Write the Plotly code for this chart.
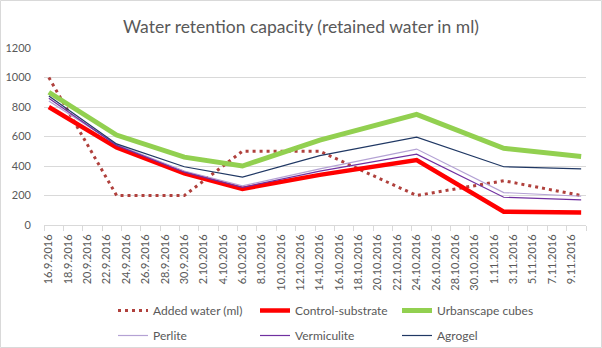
import pandas as pd
import plotly.graph_objects as go

# Measurement dates and retained water (ml) per substrate
dates = ["2016-09-16", "2016-09-23", "2016-09-30", "2016-10-06",
         "2016-10-14", "2016-10-24", "2016-11-02", "2016-11-10"]
added_water = [1000, 200, 200, 500, 500, 200, 300, 200]
control_substrate = [800, 525, 350, 245, 340, 440, 90, 85]
urbanscape_cubes = [900, 610, 460, 400, 575, 750, 520, 465]
perlite = [840, 545, 365, 265, 380, 515, 220, 195]
vermiculite = [860, 540, 358, 255, 365, 480, 188, 170]
agrogel = [875, 550, 395, 325, 470, 595, 395, 380]

# Axis labels every second day, tick marks on the day boundaries
label_dates = pd.date_range("2016-09-16", "2016-11-09", freq="2D")
tick_labels = [f"{d.day}.{d.month}.{d.year}" for d in label_dates]
x_range = ["2016-09-15 12:00", "2016-11-10 12:00"]
boundary_ticks = list(pd.date_range("2016-09-15 12:00", "2016-11-08 12:00", freq="2D")) + [pd.Timestamp(x_range[1])]

FONT = "Lato, 'Open Sans', sans-serif"
GREY = "#595959"
GRID = "#D9D9D9"

series = [
    ("Added water (ml)", added_water, dict(color="#B0403C", width=3, dash="3px,4px"), "legend"),
    ("Control-substrate", control_substrate, dict(color="#FF0000", width=4.5), "legend"),
    ("Urbanscape cubes", urbanscape_cubes, dict(color="#92D050", width=5), "legend"),
    ("Perlite", perlite, dict(color="#B4A2D4", width=1.2), "legend2"),
    ("Vermiculite", vermiculite, dict(color="#7030A0", width=1.2), "legend2"),
    ("Agrogel", agrogel, dict(color="#203864", width=1.2), "legend2"),
]

fig = go.Figure()
for name, values, line, leg in series:
    fig.add_trace(go.Scatter(
        x=dates, y=values, name=name, mode="lines", line=line,
        legend=leg, hoverinfo="skip",
    ))

# Invisible helper trace to carry the tick-mark axis
fig.add_trace(go.Scatter(x=[x_range[0]], y=[0], xaxis="x2", mode="markers",
                         marker=dict(opacity=0), showlegend=False, hoverinfo="skip"))

legend_common = dict(
    orientation="h", xref="container", yref="container",
    xanchor="left", yanchor="top", entrywidth=97, entrywidthmode="pixels",
    font=dict(family=FONT, size=12, color=GREY), bgcolor="rgba(0,0,0,0)",
    traceorder="normal",
)

fig.update_layout(
    width=602, height=348,
    margin=dict(l=44, r=16, t=48, b=123, autoexpand=False),
    paper_bgcolor="white", plot_bgcolor="white",
    title=dict(text="Water retention capacity (retained water in ml)",
               x=0.5, xanchor="center", xref="container",
               y=1 - 27 / 348, yanchor="middle", yref="container",
               font=dict(family=FONT, size=17.5, color=GREY)),
    xaxis=dict(
        type="date", range=x_range, tickmode="array", automargin=False,
        tickvals=list(label_dates), ticktext=tick_labels, tickangle=-90,
        ticks="", ticklabelstandoff=4,
        showgrid=False, showline=True, linecolor=GRID, linewidth=1,
        tickfont=dict(family=FONT, size=11, color=GREY), zeroline=False,
    ),
    xaxis2=dict(
        type="date", range=x_range, overlaying="x", anchor="y", side="bottom",
        tickmode="array", tickvals=boundary_ticks, ticks="outside", ticklen=5,
        tickcolor=GRID, tickwidth=1, showticklabels=False, showgrid=False,
        showline=False, zeroline=False, automargin=False,
    ),
    yaxis=dict(
        range=[0, 1200], dtick=200, tick0=0, showgrid=True, gridcolor=GRID,
        gridwidth=1, zeroline=False, showline=False, ticks="",
        ticklabelstandoff=12, automargin=False,
        tickfont=dict(family=FONT, size=11, color=GREY),
    ),
    legend=dict(x=113 / 602, y=(348 - 296) / 348, **legend_common),
    legend2=dict(x=113 / 602, y=(348 - 321) / 348, **legend_common),
    showlegend=True,
    shapes=[dict(type="rect", xref="paper", yref="paper",
                 x0=-44 / 542 + 0.5 / 542, x1=1 + 16 / 542 - 0.5 / 542,
                 y0=-123 / 177 + 0.5 / 177, y1=1 + 48 / 177 - 0.5 / 177,
                 line=dict(color=GRID, width=1), layer="below")],
)

fig.write_html("out.html")
